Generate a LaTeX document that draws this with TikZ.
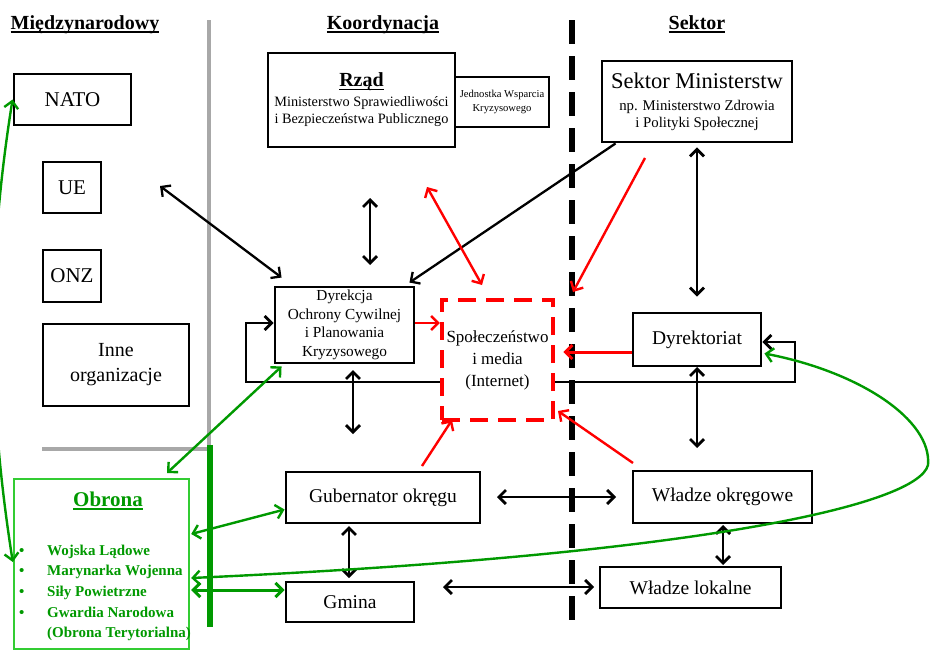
\documentclass[tikz,border=0pt]{standalone}
\usepackage{fontspec}
\setmainfont{Liberation Serif}
\usetikzlibrary{arrows.meta}
\definecolor{dgreen}{HTML}{009900}
\definecolor{lgreen}{HTML}{33CC33}
\definecolor{myred}{HTML}{FF0000}
\definecolor{mygray}{HTML}{A8A8A8}
\newcommand{\ulthick}[2][1.8pt]{\begingroup\setbox0\hbox{#2}\rlap{\copy0}\rule[-3.5pt]{\wd0}{#1}\endgroup}
\newcommand{\fsz}[2]{\fontsize{#1}{#2}\selectfont}
\begin{document}
\begin{tikzpicture}[x=1pt,y=-1pt,>={Straight Barb[length=7pt,width=14pt]},
  box/.style={draw, line width=2.9pt, inner sep=1pt, fill=white, align=center},
  heading/.style={font=\bfseries\fsz{20}{24}, inner sep=0pt, anchor=base},
  blk/.style={line width=2.8pt, <->},
  redarr/.style={line width=2.4pt, myred},
  grn/.style={line width=2.4pt, dgreen, <->},
  item/.style={font=\bfseries\fsz{15}{18}, text=dgreen, inner sep=0pt, anchor=base west}]
\useasboundingbox (0,0) rectangle (933,653);
\fill[white] (0,0) rectangle (933,653);

% separators
\draw[mygray, line width=4.5pt] (209,20) -- (209,446);
\draw[mygray, line width=4.5pt] (42,449) -- (211,449);
\draw[dgreen, line width=5.5pt] (210,445) -- (210,627);
\draw[black, line width=5.5pt, dash pattern=on 24pt off 12pt] (572,20) -- (572,627);

% headings
\node[heading] (hm) at (85,29) {\ulthick{Międzynarodowy}};
\node[heading] (hk) at (383,29) {\ulthick{Koordynacja}};
\node[heading] (hs) at (697,29) {\ulthick{Sektor}};

% international
\node[box, minimum width=117pt, minimum height=51pt, font=\fsz{21}{24}] (nato) at (72.5,99.5) {NATO};
\node[box, minimum width=58pt, minimum height=51pt, font=\fsz{21}{24}] (ue) at (72,187.5) {UE};
\node[box, minimum width=58pt, minimum height=52pt, font=\fsz{21}{24}] (onz) at (72,276) {ONZ};
\node[box, minimum width=146pt, minimum height=82pt, font=\fsz{20}{25}] (inne) at (116,365) {Inne\\organizacje};

% coordination
\node[box, minimum width=187pt, minimum height=94pt, font=\fsz{14.3}{17}] (rzad) at (361.5,100)
  {{\bfseries\fsz{20}{22}\ulthick[1.5pt]{Rząd}}\\[3pt]Ministerstwo Sprawiedliwości\\i Bezpieczeństwa Publicznego};
\node[box, minimum width=94pt, minimum height=50pt, font=\fsz{10.6}{14}] (jed) at (502,102) {Jednostka Wsparcia\\Kryzysowego};
\node[box, minimum width=190pt, minimum height=81pt, font=\fsz{14.8}{17}] (sek) at (697,101.5)
  {{\fsz{22.5}{24}Sektor Ministerstw}\\[5pt]np. Ministerstwo Zdrowia\\i Polityki Społecznej};
\node[box, minimum width=139pt, minimum height=76pt, font=\fsz{15.3}{18.5}] (dyr) at (344.5,325)
  {Dyrekcja\\Ochrony Cywilnej\\i Planowania\\Kryzysowego};
\node[box, minimum width=128pt, minimum height=53pt, font=\fsz{19.5}{22}] (dirk) at (697,339.5) {Dyrektoriat};
\node[box, minimum width=194pt, minimum height=51pt, font=\fsz{19.5}{22}] (gub) at (383,497.5) {Gubernator okręgu};
\node[box, minimum width=128pt, minimum height=40pt, font=\fsz{19.5}{22}] (gmina) at (350,602) {Gmina};
\node[box, minimum width=179pt, minimum height=52pt, font=\fsz{19.5}{22}] (wo) at (722.5,497) {Władze okręgowe};
\node[box, minimum width=181pt, minimum height=41pt, font=\fsz{19.5}{22}] (wl) at (690.5,587.5) {Władze lokalne};

% feedback loop (behind media box)
\draw[blk] ([shift={(0,-2)}]dyr.west) -- (246,323) -- (246,382) -- (795,382) -- (795,342) -- ([shift={(0,2.5)}]dirk.east);

\node[draw=myred, line width=4.5pt, dash pattern=on 18pt off 10pt, fill=white, align=center,
  minimum width=111pt, minimum height=120pt, inner sep=1pt, font=\fsz{17}{22}] (spol) at (497.5,360)
  {Społeczeństwo\\i media\\(Internet)};

% defence
\node[draw=lgreen, line width=2.4pt, minimum width=175pt, minimum height=170pt] (obr) at (101.5,564) {};
\node[font=\bfseries\fsz{21}{24}, text=dgreen, inner sep=0pt, anchor=base] (obt) at (108,506) {\ulthick{Obrona}};
\foreach \t [count=\i] in {Wojska Lądowe,Marynarka Wojenna,Siły Powietrzne,Gwardia Narodowa,(Obrona Terytorialna)}{
  \node[item] (o\i) at (47,{555+20.7*(\i-1)}) {\t};
}
\foreach \i in {1,...,4}{
  \node[item] (b\i) at (19,{555+20.7*(\i-1)}) {•};
}

% free coordinates
\coordinate (c1) at (160,186);
\coordinate (r1) at (370,198);
\coordinate (r2) at (370,265);
\coordinate (m1) at (427,187);
\coordinate (m2) at (482,285);
\coordinate (s1) at (645,158);
\coordinate (s2) at (573,292);
\coordinate (d1) at (353,370);
\coordinate (d2) at (353,434);
\coordinate (k1) at (697,367);
\coordinate (k2) at (697,448);
\coordinate (g1) at (422,466);
\coordinate (g2) at (452,420);
\coordinate (w1) at (633,463);
\coordinate (w2) at (558,411);
\coordinate (h1) at (497,497);
\coordinate (h2) at (616,497);
\coordinate (v1) at (349,526);
\coordinate (v2) at (349,578);
\coordinate (l1) at (443,587);
\coordinate (l2) at (594,587);
\coordinate (u1) at (723,525);
\coordinate (u2) at (723,565);
\coordinate (e1) at (167,473);

% black connectors
\draw[blk, line width=2.3pt] (c1) -- ([shift={(8,-8)}]dyr.north west);
\draw[blk] (r1) -- (r2);
\draw[line width=2.3pt, ->] ([shift={(15,0)}]sek.south west) -- ([shift={(-6,-3)}]dyr.north east);
\draw[blk] ([shift={(0,4)}]sek.south) -- ([shift={(0,-15)}]dirk.north);
\draw[blk] (d1) -- (d2);
\draw[blk] (k1) -- (k2);
\draw[blk] (h1) -- (h2);
\draw[blk] (v1) -- (v2);
\draw[blk] (l1) -- (l2);
\draw[blk] (u1) -- (u2);

% red connectors
\draw[redarr, <->] (m1) -- (m2);
\draw[redarr, ->] (s1) -- (s2);
\draw[redarr, line width=3pt, ->] ([shift={(0,12.5)}]dirk.west) -- ([shift={(8,-8)}]spol.east);
\draw[redarr, ->] ([shift={(0,-2)}]dyr.east) -- ([shift={(0,-37)}]spol.west);
\draw[redarr, ->] (g1) -- (g2);
\draw[redarr, ->] (w1) -- (w2);

% green connectors
\draw[grn] (nato.west) .. controls (-14,266) and (-12,404) .. ([shift={(0,-2)}]obr.west);
\draw[grn] (e1) -- ([shift={(8,2)}]dyr.south west);
\draw[grn] ([shift={(1,-30)}]obr.east) -- ([shift={(0,12)}]gub.west);
\draw[grn] ([shift={(2,14)}]dirk.east) .. controls (860,372) and (932,420) .. (928,465)
  .. controls (918,505) and (700,555) .. ([shift={(1,14)}]obr.east);
\draw[grn, line width=3pt] ([shift={(1,26)}]obr.east) -- ([shift={(0,-12)}]gmina.west);
\end{tikzpicture}
\end{document}
